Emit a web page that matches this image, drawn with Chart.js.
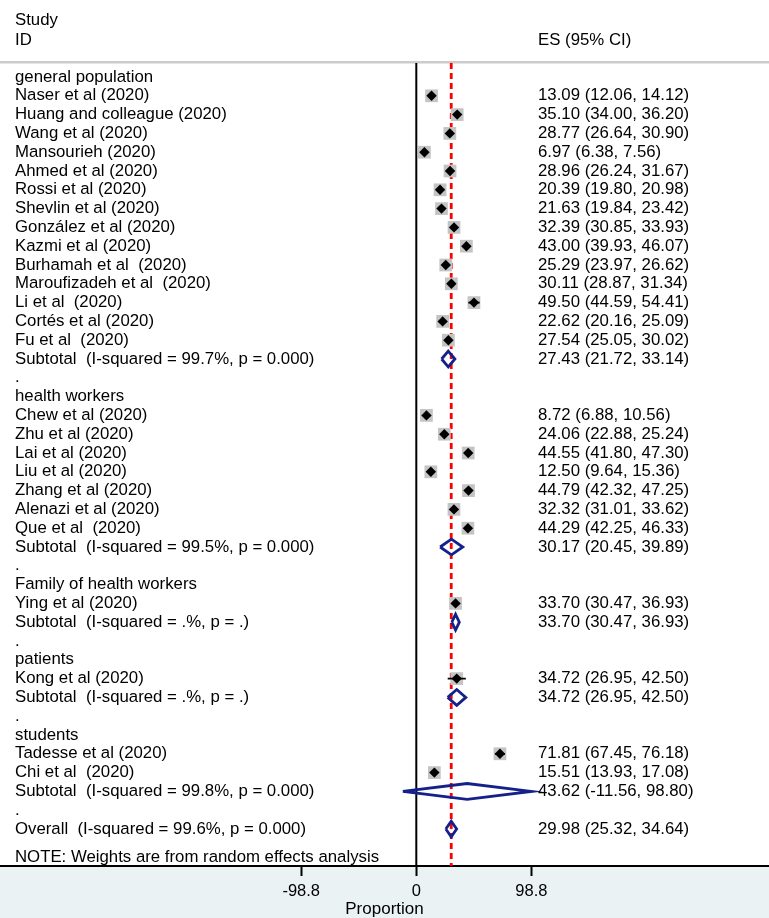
<!DOCTYPE html>
<html>
<head>
<meta charset="utf-8">
<script src="https://cdn.jsdelivr.net/npm/chart.js@4.4.1/dist/chart.umd.min.js"></script>
<style>
  html, body { margin: 0; padding: 0; background: #ffffff; }
  #wrap { width: 769px; height: 918px; position: relative; }
</style>
</head>
<body>
<div id="wrap"><canvas id="c" width="769" height="918"></canvas></div>
<script>
// ---------------- data ----------------
const headerStudy = "Study";
const headerID = "ID";
const headerES = "ES (95% CI)";
const noteText = "NOTE: Weights are from random effects analysis";
const axisTitle = "Proportion";
const tickValues = [-98.8, 0, 98.8];
const tickLabels = ["-98.8", "0", "98.8"];
const overallES = 29.98;

const rowLabels = [
  "general population",
  "Naser et al (2020)",
  "Huang and colleague (2020)",
  "Wang et al (2020)",
  "Mansourieh (2020)",
  "Ahmed et al (2020)",
  "Rossi et al (2020)",
  "Shevlin et al (2020)",
  "González et al (2020)",
  "Kazmi et al (2020)",
  "Burhamah et al  (2020)",
  "Maroufizadeh et al  (2020)",
  "Li et al  (2020)",
  "Cortés et al (2020)",
  "Fu et al  (2020)",
  "Subtotal  (I-squared = 99.7%, p = 0.000)",
  ".",
  "health workers",
  "Chew et al (2020)",
  "Zhu et al (2020)",
  "Lai et al (2020)",
  "Liu et al (2020)",
  "Zhang et al (2020)",
  "Alenazi et al (2020)",
  "Que et al  (2020)",
  "Subtotal  (I-squared = 99.5%, p = 0.000)",
  ".",
  "Family of health workers",
  "Ying et al (2020)",
  "Subtotal  (I-squared = .%, p = .)",
  ".",
  "patients",
  "Kong et al (2020)",
  "Subtotal  (I-squared = .%, p = .)",
  ".",
  "students",
  "Tadesse et al (2020)",
  "Chi et al  (2020)",
  "Subtotal  (I-squared = 99.8%, p = 0.000)",
  ".",
  "Overall  (I-squared = 99.6%, p = 0.000)"
];

// row kind: g = group header, s = study, t = subtotal/overall (diamond), d = dot spacer
const rowKind = [
  "g","s","s","s","s","s","s","s","s","s","s","s","s","s","s","t","d",
  "g","s","s","s","s","s","s","s","t","d",
  "g","s","t","d",
  "g","s","t","d",
  "g","s","s","t","d",
  "t"
];

const esValues = [
  null, 13.09, 35.10, 28.77, 6.97, 28.96, 20.39, 21.63, 32.39, 43.00, 25.29, 30.11, 49.50, 22.62, 27.54, 27.43, null,
  null, 8.72, 24.06, 44.55, 12.50, 44.79, 32.32, 44.29, 30.17, null,
  null, 33.70, 33.70, null,
  null, 34.72, 34.72, null,
  null, 71.81, 15.51, 43.62, null,
  29.98
];
const ciLower = [
  null, 12.06, 34.00, 26.64, 6.38, 26.24, 19.80, 19.84, 30.85, 39.93, 23.97, 28.87, 44.59, 20.16, 25.05, 21.72, null,
  null, 6.88, 22.88, 41.80, 9.64, 42.32, 31.01, 42.25, 20.45, null,
  null, 30.47, 30.47, null,
  null, 26.95, 26.95, null,
  null, 67.45, 13.93, -11.56, null,
  25.32
];
const ciUpper = [
  null, 14.12, 36.20, 30.90, 7.56, 31.67, 20.98, 23.42, 33.93, 46.07, 26.62, 31.34, 54.41, 25.09, 30.02, 33.14, null,
  null, 10.56, 25.24, 47.30, 15.36, 47.25, 33.62, 46.33, 39.89, null,
  null, 36.93, 36.93, null,
  null, 42.50, 42.50, null,
  null, 76.18, 17.08, 98.80, null,
  34.64
];

// ---------------- layout / style constants ----------------
const W = 769, H = 918;
const PLOT_TOP = 63, PLOT_BOTTOM = 866;
const ZERO_PX = 416.3, PX_PER_UNIT = 1.165;
const X_MIN = -ZERO_PX / PX_PER_UNIT;
const X_MAX = (W - ZERO_PX) / PX_PER_UNIT;
const ROW0_PX = 77, ROW_PX = 18.8;
const Y_MIN = -(ROW0_PX - PLOT_TOP) / ROW_PX;
const Y_MAX = (PLOT_BOTTOM - ROW0_PX) / ROW_PX;
const NOTE_ROW = 41.5;
const DIAMOND_HALF = 0.42;
const FONT = "'Liberation Sans', Arial, Helvetica, sans-serif";
const NAVY = "#14218a";
const LEFT_X = 15, RIGHT_X = 538;

// ---------------- build datasets from the arrays ----------------
const boxPts = [], dotPts = [], ciPts = [], diamondPts = [];
rowKind.forEach((k, r) => {
  if (k === "s") {
    boxPts.push({x: esValues[r], y: r});
    dotPts.push({x: esValues[r], y: r});
    ciPts.push({x: ciLower[r], y: r}, {x: ciUpper[r], y: r}, {x: NaN, y: NaN});
  } else if (k === "t") {
    diamondPts.push(
      {x: ciLower[r], y: r},
      {x: esValues[r], y: r - DIAMOND_HALF},
      {x: ciUpper[r], y: r},
      {x: esValues[r], y: r + DIAMOND_HALF},
      {x: ciLower[r], y: r},
      {x: NaN, y: NaN}
    );
  }
});

const fmt = v => v.toFixed(2);

const bgPlugin = {
  id: "bg",
  beforeDraw(chart) {
    const {ctx, chartArea} = chart;
    ctx.save();
    ctx.fillStyle = "#ffffff";
    ctx.fillRect(0, 0, W, H);
    ctx.fillStyle = "#eaf2f3";
    ctx.fillRect(0, chartArea.bottom, W, H - chartArea.bottom);
    ctx.fillStyle = "#cccccc";
    ctx.fillRect(0, 61, W, 2.5);
    ctx.restore();
  }
};

const textPlugin = {
  id: "texts",
  afterDraw(chart) {
    const {ctx} = chart;
    const ys = chart.scales.y;
    ctx.save();
    ctx.fillStyle = "#000000";
    ctx.textBaseline = "middle";
    ctx.textAlign = "left";
    ctx.font = "16.8px " + FONT;
    ctx.fillText(headerStudy, LEFT_X, 20);
    ctx.fillText(headerID, LEFT_X, 40);
    ctx.fillText(headerES, RIGHT_X, 40);
    rowLabels.forEach((lab, r) => {
      const y = ys.getPixelForValue(r);
      ctx.fillText(lab, LEFT_X, y);
      if (esValues[r] !== null) {
        ctx.fillText(fmt(esValues[r]) + " (" + fmt(ciLower[r]) + ", " + fmt(ciUpper[r]) + ")", RIGHT_X, y);
      }
    });
    ctx.fillText(noteText, LEFT_X, ys.getPixelForValue(NOTE_ROW));
    ctx.restore();
  }
};

Chart.defaults.font.family = FONT;

new Chart(document.getElementById("c"), {
  type: "scatter",
  data: {
    datasets: [
      { // study point estimates (black diamonds)
        data: dotPts, pointStyle: "rectRot", pointRadius: 5.2, pointHoverRadius: 5.2,
        backgroundColor: "#000000", borderWidth: 0, order: 1
      },
      { // confidence intervals
        data: ciPts, showLine: true, spanGaps: false, borderColor: "#000000", borderWidth: 1.8,
        pointRadius: 0, pointHoverRadius: 0, order: 2
      },
      { // weight boxes
        data: boxPts, pointStyle: "rect", pointRadius: 9, pointHoverRadius: 9,
        backgroundColor: "#c4c4c4", borderWidth: 0, order: 3
      },
      { // pooled diamonds
        data: diamondPts, showLine: true, spanGaps: false, borderColor: NAVY, borderWidth: 2.8,
        pointRadius: 0, pointHoverRadius: 0, fill: false, order: 4
      },
      { // overall effect line
        data: [{x: overallES, y: Y_MIN}, {x: overallES, y: Y_MAX}], showLine: true,
        borderColor: "#ff0000", borderWidth: 2.8, borderDash: [6, 4], pointRadius: 0, pointHoverRadius: 0, order: 5
      },
      { // null line
        data: [{x: 0, y: Y_MIN}, {x: 0, y: Y_MAX}], showLine: true,
        borderColor: "#000000", borderWidth: 2, pointRadius: 0, pointHoverRadius: 0, order: 6
      }
    ]
  },
  options: {
    responsive: false,
    animation: false,
    devicePixelRatio: 1,
    layout: { autoPadding: false, padding: { top: PLOT_TOP, left: 0, right: 0, bottom: 0 } },
    plugins: { legend: { display: false }, tooltip: { enabled: false }, title: { display: false } },
    events: [],
    scales: {
      x: {
        type: "linear", position: "bottom", min: X_MIN, max: X_MAX,
        afterBuildTicks: s => { s.ticks = tickValues.map(v => ({value: v})); },
        afterFit: s => { s.height = H - PLOT_BOTTOM; },
        ticks: {
          callback: (v, i) => tickLabels[i], color: "#000000", padding: 6,
          font: { size: 16.5, family: FONT }, maxRotation: 0, autoSkip: false
        },
        grid: { drawOnChartArea: false, drawTicks: true, tickLength: 10, tickColor: "#000000", tickWidth: 2, color: "rgba(0,0,0,0)" },
        border: { display: true, color: "#000000", width: 2 },
        title: { display: true, text: axisTitle, color: "#000000", font: { size: 17, family: FONT }, padding: { top: 0, bottom: -2 } }
      },
      y: {
        type: "linear", display: false, reverse: true, min: Y_MIN, max: Y_MAX
      }
    }
  },
  plugins: [bgPlugin, textPlugin]
});
</script>
</body>
</html>
